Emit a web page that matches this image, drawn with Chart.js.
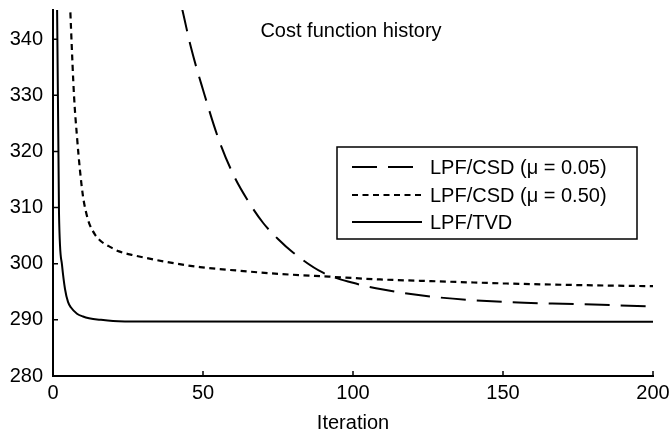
<!DOCTYPE html>
<html>
<head>
<meta charset="utf-8">
<script src="https://cdn.jsdelivr.net/npm/chart.js@4/dist/chart.umd.min.js"></script>
<style>
html,body{margin:0;padding:0;background:#fff;}
canvas{display:block;}
</style>
</head>
<body>
<canvas id="c" width="670" height="439"></canvas>
<script>
// ---- data ----
const chartTitle = "Cost function history";
const xTitle = "Iteration";
const seriesLabels = ["LPF/CSD (\u03bc = 0.05)", "LPF/CSD (\u03bc = 0.50)", "LPF/TVD"];

const csd005Iter = [40, 43, 46, 50, 55, 60, 65, 70, 75, 80, 90, 100, 110, 125, 150, 175, 200];
const csd005Cost = [352, 345.5, 338.5, 331, 322.5, 316, 311.2, 307.3, 304.4, 302, 298.4, 296.6, 295.4, 294.2, 293.2, 292.8, 292.4];

const csd050Iter = [5, 6, 7, 8, 9, 10, 11, 12, 14, 16, 19, 22, 27, 38, 49, 61, 75, 92, 109, 126, 150, 175, 200];
const csd050Cost = [356, 342, 330, 322.6, 316.6, 312, 309.2, 307.3, 305.2, 304, 303, 302.2, 301.5, 300.3, 299.4, 298.8, 298.2, 297.7, 297.2, 296.9, 296.5, 296.2, 296];

const tvdIter = [1, 2, 3, 4, 5, 6, 8, 10, 12, 16, 20, 30, 200];
const tvdCost = [370, 309, 299.8, 295.5, 293.2, 292.2, 291.1, 290.6, 290.3, 290, 289.8, 289.7, 289.65];

const xTicks = [0, 50, 100, 150, 200];
const yTicks = [280, 290, 300, 310, 320, 330, 340];

function pts(xs, ys){ return xs.map((x,i)=>({x:x, y:ys[i]})); }

const FONT = "'Liberation Sans', Arial, Helvetica, sans-serif";

const inwardTicks = {
  id: 'inwardTicks',
  afterDraw(chart){
    const ctx = chart.ctx, xs = chart.scales.x, ys = chart.scales.y, a = chart.chartArea;
    ctx.save();
    ctx.strokeStyle = '#000';
    ctx.lineWidth = 1.5;
    ctx.beginPath();
    xTicks.forEach(v=>{ const p = xs.getPixelForValue(v); ctx.moveTo(p, a.bottom); ctx.lineTo(p, a.bottom-5); });
    yTicks.forEach(v=>{ const p = ys.getPixelForValue(v); ctx.moveTo(a.left, p); ctx.lineTo(a.left+5, p); });
    ctx.stroke();
    // title inside plot
    ctx.fillStyle = '#000';
    ctx.font = "20px " + FONT;
    ctx.textAlign = 'center';
    ctx.textBaseline = 'middle';
    ctx.fillText(chartTitle, 351, 31);
    // legend box
    const bx = 337, by = 147, bw = 300, bh = 92;
    ctx.lineWidth = 1.5;
    ctx.strokeRect(bx, by, bw, bh);
    const rows = [167, 195, 222];
    chart.data.datasets.forEach((ds, i)=>{
      ctx.beginPath();
      ctx.setLineDash(ds.borderDash || []);
      ctx.lineWidth = ds.borderWidth;
      ctx.moveTo(352, rows[i]);
      ctx.lineTo(422, rows[i]);
      ctx.stroke();
      ctx.setLineDash([]);
      ctx.textAlign = 'left';
      ctx.fillText(ds.label, 430, rows[i]+1);
    });
    ctx.restore();
  }
};

new Chart(document.getElementById('c'), {
  type: 'line',
  data: {
    datasets: [
      { label: seriesLabels[0], data: pts(csd005Iter, csd005Cost), borderColor:'#000', borderWidth:2, borderDash:[25,11], pointRadius:0, fill:false, cubicInterpolationMode:'monotone' },
      { label: seriesLabels[1], data: pts(csd050Iter, csd050Cost), borderColor:'#000', borderWidth:2.2, borderDash:[6,4.5], pointRadius:0, fill:false, cubicInterpolationMode:'monotone' },
      { label: seriesLabels[2], data: pts(tvdIter, tvdCost), borderColor:'#000', borderWidth:2, pointRadius:0, fill:false, cubicInterpolationMode:'monotone' }
    ]
  },
  options: {
    responsive: false,
    devicePixelRatio: 1,
    animation: false,
    layout: { padding: { top: 10, right: 17, left: 0, bottom: 0 } },
    plugins: { legend: { display:false }, tooltip: { enabled:false }, title: { display:false } },
    scales: {
      x: {
        type: 'linear', min: 0, max: 200,
        afterFit(s){ s.height = 63; s.paddingLeft = 0; s.paddingRight = 0; },
        afterBuildTicks(s){ s.ticks = xTicks.map(v=>({value:v})); },
        grid: { display: true, drawOnChartArea:false, drawTicks:false },
        border: { display:true, color:'#000', width:2 },
        ticks: { color:'#000', font:{ family: FONT, size:20 }, padding:5, maxRotation:0 },
        title: { display:true, text: xTitle, color:'#000', font:{ family: FONT, size:20 }, padding:{ top:0, bottom:4 } }
      },
      y: {
        type: 'linear', min: 280, max: 345.2,
        afterFit(s){ s.width = 53; s.paddingTop = 0; s.paddingBottom = 0; },
        afterBuildTicks(s){ s.ticks = yTicks.map(v=>({value:v})); },
        grid: { display: true, drawOnChartArea:false, drawTicks:false },
        border: { display:true, color:'#000', width:2 },
        ticks: { color:'#000', font:{ family: FONT, size:20 }, padding:10 }
      }
    }
  },
  plugins: [inwardTicks]
});
</script>
</body>
</html>
